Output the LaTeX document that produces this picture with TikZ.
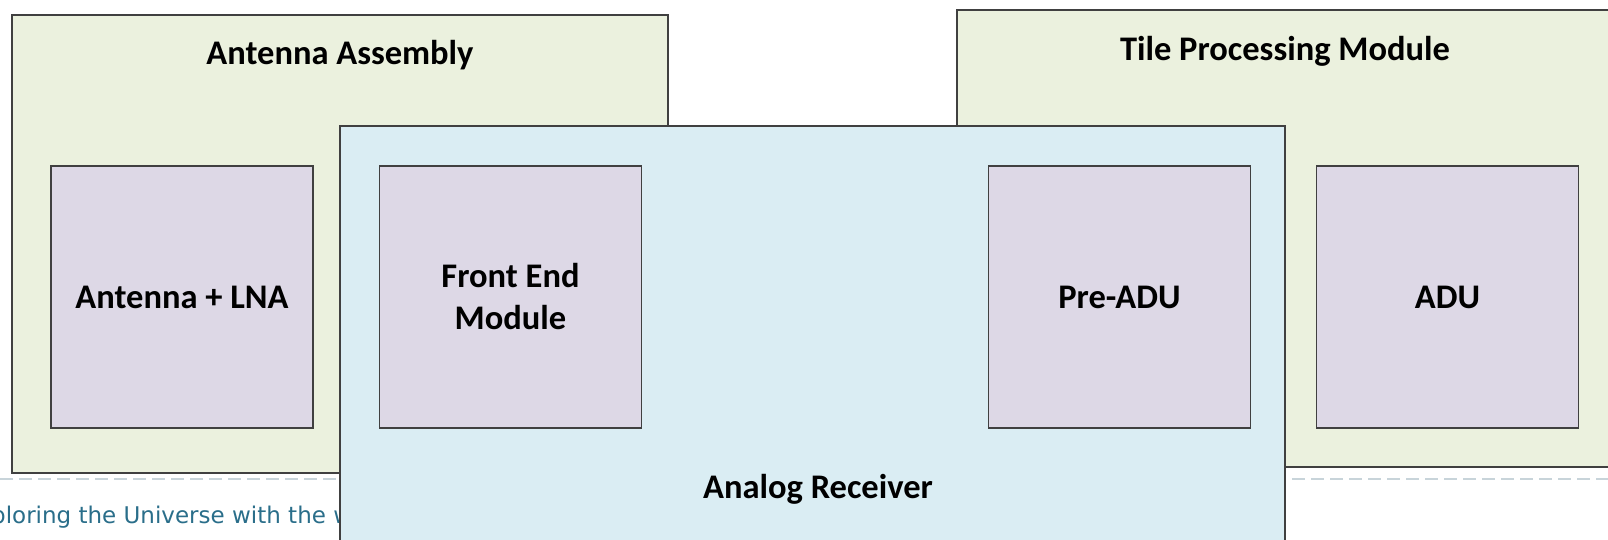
\documentclass[tikz,border=0pt]{standalone}
\usepackage{fontspec}
\setmainfont{Carlito}
\newfontfamily\footfont{DejaVu Sans}
\definecolor{greenfill}{RGB}{235,241,222}
\definecolor{bluefill}{RGB}{218,237,243}
\definecolor{lavfill}{RGB}{221,216,230}
\definecolor{boxline}{RGB}{64,64,64}
\definecolor{dashcol}{RGB}{200,212,218}
\definecolor{footcol}{RGB}{42,110,138}
\tikzset{
  group/.style={draw=boxline, line width=1.3pt, inner sep=0pt, outer sep=0pt},
  greenbox/.style={group, fill=greenfill},
  bluebox/.style={group, fill=bluefill},
  unitbox/.style={draw=boxline, line width=1.3pt, fill=lavfill, inner sep=0pt, outer sep=0pt,
    minimum width=262pt, minimum height=262pt, align=center,
    font=\fontsize{34.5}{42}\selectfont\bfseries},
  title/.style={inner sep=0pt, anchor=base, font=\fontsize{34.5}{42}\selectfont\bfseries},
}
\begin{document}
\begin{tikzpicture}[x=1pt,y=-1pt]
\useasboundingbox (0,0) rectangle (1608,539);
\fill[white] (0,0) rectangle (1608,539);
% footer line and text
\coordinate (dl) at (0,479);
\coordinate (dr) at (1608,479);
\draw[dashcol, line width=2pt, dash pattern=on 13pt off 6pt] (dl) -- (dr);
\node[anchor=base west, inner sep=0pt, text=footcol, font=\footfont\fontsize{23}{28}\selectfont]
  (foot) at (-9,523) {ploring the Universe with the w};
% Antenna Assembly
\node[greenbox, minimum width=656pt, minimum height=458pt] (aa) at (340,244) {};
\node[title] (aat) at (340,64) {Antenna Assembly};
\node[unitbox] (lna) at (182,297) {Antenna + LNA};
% Tile Processing Module
\node[greenbox, minimum width=663pt, minimum height=457pt] (tpm) at (1288.5,238.5) {};
\node[title] (tpmt) at (1285,60) {Tile Processing Module};
\node[unitbox] (adu) at (1447.5,297) {ADU};
% Analog Receiver
\node[bluebox, minimum width=945pt, minimum height=440pt] (ar) at (812.5,346) {};
\node[title] (art) at (818,498) {Analog Receiver};
\node[unitbox] (fem) at (510.5,297) {Front End\\Module};
\node[unitbox] (pre) at (1119.5,297) {Pre-ADU};
\end{tikzpicture}
\end{document}
